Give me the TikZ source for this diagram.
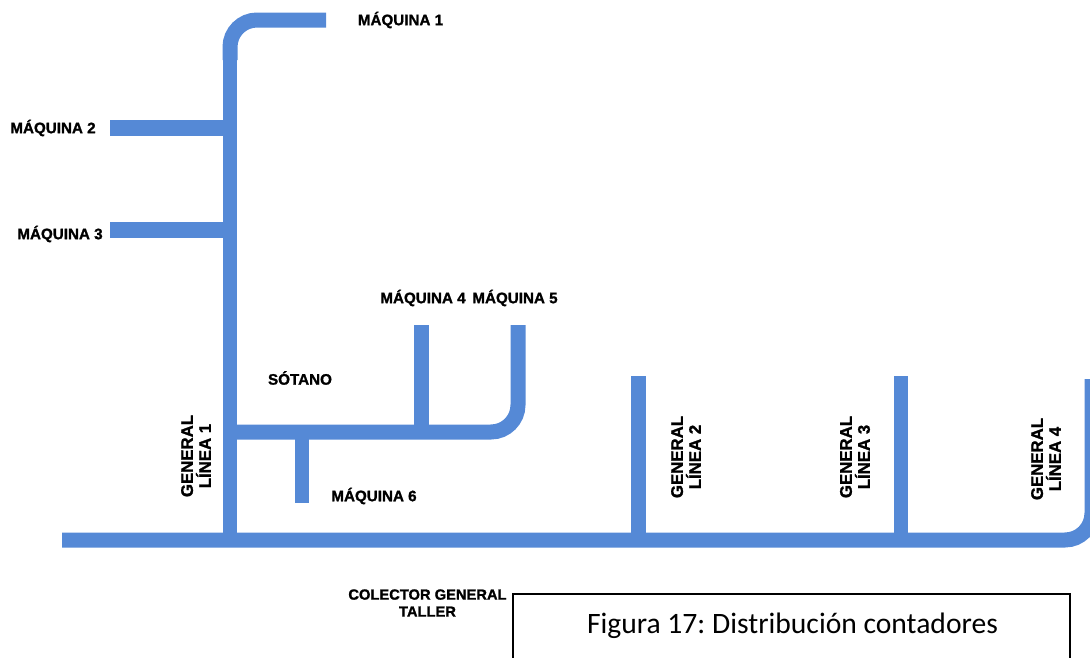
\documentclass[tikz,border=0pt]{standalone}
\usepackage{fontspec}
\setmainfont[BoldFeatures={FakeBold=1.3}]{Liberation Sans}
\newfontfamily\capfont{Carlito}
\definecolor{pipeblue}{HTML}{5589D6}
\tikzset{
  x=1pt,y=-1pt,
  vpipe/.style={draw=pipeblue,line width=14pt},
  hpipe/.style={draw=pipeblue,line width=16pt},
  elbow/.style={draw=pipeblue,line width=15pt,rounded corners=27pt},
  lab/.style={inner sep=0pt,font=\bfseries\fontsize{15.2}{17}\selectfont,text=black},
  vlab/.style={inner sep=0pt,rotate=90,align=center,font=\bfseries\fontsize{16.8}{18}\selectfont,text=black},
  clab/.style={inner sep=0pt,align=center,font=\bfseries\fontsize{14.7}{17}\selectfont,text=black},
}
\begin{document}
\frenchspacing
\begin{tikzpicture}
\useasboundingbox (0,0) rectangle (1090,657);
% junctions
\coordinate (cw) at (62,540);
\coordinate (j1) at (230,540);
\coordinate (el1) at (230,60);
\coordinate (cornerA) at (230,20);
\coordinate (m1) at (326,20);
\coordinate (m2) at (110,128);
\coordinate (j2) at (230,128);
\coordinate (m3) at (110,230);
\coordinate (j3) at (230,230);
\coordinate (b0) at (237,432);
\coordinate (cornerB) at (518,432);
\coordinate (m5) at (518,325);
\coordinate (m4) at (421.5,325);
\coordinate (j4) at (421.5,432);
\coordinate (j6) at (302,432);
\coordinate (m6) at (302,503);
\coordinate (j7) at (638,540);
\coordinate (l2) at (638,376);
\coordinate (j8) at (901,540);
\coordinate (l3) at (901,376);
\coordinate (l4) at (1092,379);
\coordinate (cornerC) at (1092,540);
% pipes
\draw[vpipe] (j1) -- (el1);
\draw[elbow] (el1) -- (cornerA) -- (m1);
\draw[hpipe] (m2) -- (j2);
\draw[hpipe] (m3) -- (j3);
\draw[elbow] (b0) -- (cornerB) -- (m5);
\draw[vpipe,line width=15pt] (m4) -- (j4);
\draw[vpipe] (j6) -- (m6);
\draw[vpipe,line width=15pt] (l2) -- (j7);
\draw[vpipe] (l3) -- (j8);
\draw[elbow] (cw) -- (cornerC) -- (l4);
% labels
\node[lab] (tm1) at (400.5,20) {MÁQUINA 1};
\node[lab] (tm2) at (53,128) {MÁQUINA 2};
\node[lab] (tm3) at (60,234) {MÁQUINA 3};
\node[lab] (tm4) at (423,298) {MÁQUINA 4};
\node[lab] (tm5) at (515,298) {MÁQUINA 5};
\node[lab] (tm6) at (374,496) {MÁQUINA 6};
\node[lab] (ts) at (300,378) {SÓTANO};
\node[vlab] (g1) at (196,456) {GENERAL\\LÍNEA 1};
\node[vlab] (g2) at (686,457) {GENERAL\\LÍNEA 2};
\node[vlab] (g3) at (855,457) {GENERAL\\LÍNEA 3};
\node[vlab] (g4) at (1046,459) {GENERAL\\LÍNEA 4};
\node[clab] (col) at (427.5,603) {COLECTOR GENERAL\\TALLER};
% caption box, open at the page bottom
\coordinate (bl) at (513,660);
\coordinate (tl) at (513,594);
\coordinate (tr) at (1070,594);
\coordinate (br) at (1070,660);
\draw[black,line width=1.5pt] (bl) -- (tl) -- (tr) -- (br);
\node[inner sep=0pt,font=\capfont\fontsize{29.6}{32}\selectfont] (cap) at (792.5,626) {Figura 17: Distribución contadores};
\end{tikzpicture}
\end{document}
